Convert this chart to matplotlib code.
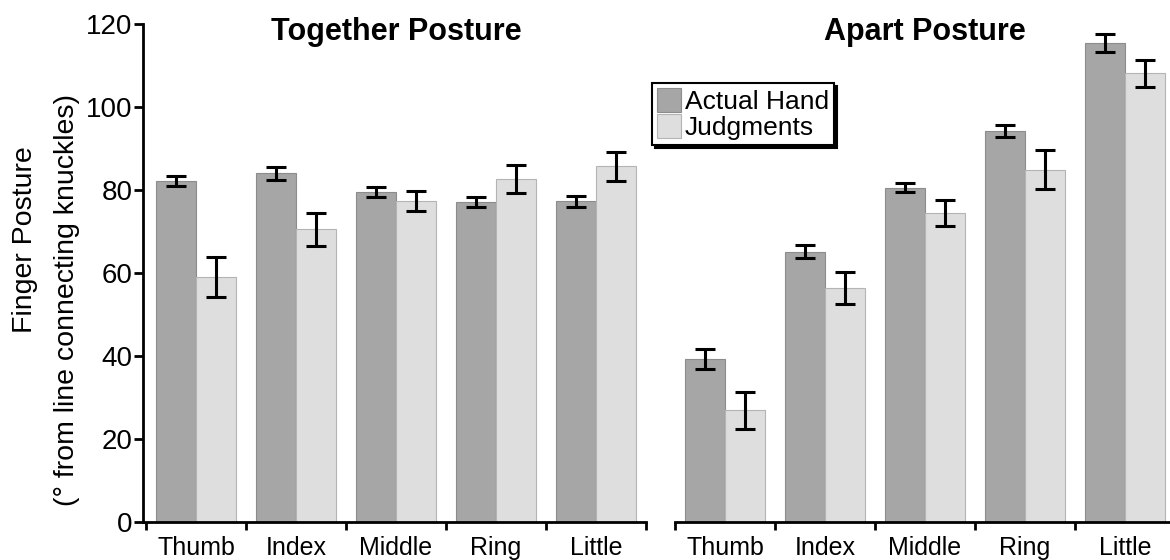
#-----------------------------------------------------------------------
#---- plot.py : Finger posture, actual hand vs judgments
#-----------------------------------------------------------------------

import numpy as np
import matplotlib
matplotlib.use("Agg")
import matplotlib.pyplot as plt


#---- Donnees
fingers = ["Thumb", "Index", "Middle", "Ring", "Little"]
series_names = ["Actual Hand", "Judgments"]

together_actual = [82.1, 84.0, 79.5, 77.1, 77.3]
together_actual_err = [1.2, 1.5, 1.3, 1.1, 1.3]
together_judg = [59.0, 70.5, 77.3, 82.6, 85.7]
together_judg_err = [4.8, 3.9, 2.4, 3.4, 3.5]

apart_actual = [39.3, 65.1, 80.6, 94.2, 115.4]
apart_actual_err = [2.5, 1.6, 1.05, 1.4, 2.1]
apart_judg = [26.9, 56.4, 74.5, 84.9, 108.1]
apart_judg_err = [4.5, 3.8, 3.2, 4.7, 3.2]

y_ticks = [0, 20, 40, 60, 80, 100, 120]


#---- Styles
DARK = "#a6a6a6"
LIGHT = "#dedede"
W = 0.4
SPINE_LW = 2.0


#-------------------------------------------------------------------
#---- Trace d'un panneau
#-------------------------------------------------------------------
def drawPanel(ax, actual, actual_err, judg, judg_err, title, xmin):

    x = np.arange(len(fingers))

    ax.bar(x - W/2, actual, W, color=DARK, edgecolor="#8c8c8c", linewidth=0.8,
           label=series_names[0], zorder=2)
    ax.bar(x + W/2, judg, W, color=LIGHT, edgecolor="#b4b4b4", linewidth=0.8,
           label=series_names[1], zorder=2)

    errStyle = dict(fmt="none", ecolor="black", elinewidth=2.2, capsize=7,
                    capthick=2.2, zorder=3)
    ax.errorbar(x - W/2, actual, yerr=actual_err, **errStyle)
    ax.errorbar(x + W/2, judg, yerr=judg_err, **errStyle)

    ax.set_xlim(xmin, len(fingers) - 0.5)
    ax.set_ylim(0, 120)

    #---- Graduations x : traits aux limites de groupes, labels au centre
    ax.set_xticks(np.arange(len(fingers) + 1) - 0.5)
    ax.set_xticklabels([])
    ax.set_xticks(x, minor=True)
    ax.set_xticklabels(fingers, minor=True, fontsize=18)
    ax.tick_params(axis="x", which="major", direction="out", length=6,
                   width=SPINE_LW, color="black")
    ax.tick_params(axis="x", which="minor", length=0, pad=10)

    for s in ["top", "right"]:
        ax.spines[s].set_visible(False)
    ax.spines["bottom"].set_linewidth(SPINE_LW)

    ax.text(2, 116.2, title, ha="center", va="baseline", fontsize=22,
            fontweight="bold")


#-----------------------------------------------------------------------
#---- Main script
#-----------------------------------------------------------------------
def main():

    plt.rcParams["font.family"] = ["Liberation Sans", "DejaVu Sans"]

    fig = plt.figure(figsize=(11.7, 5.6), dpi=100)

    #---- Positions en pixels convertis en fraction de figure
    bottom = 38 / 560
    height = 498 / 560
    axL = fig.add_axes([143 / 1170, bottom, 503 / 1170, height])
    axR = fig.add_axes([675 / 1170, bottom, 500 / 1170, height])

    drawPanel(axL, together_actual, together_actual_err, together_judg,
              together_judg_err, "Together Posture", -0.53)
    drawPanel(axR, apart_actual, apart_actual_err, apart_judg,
              apart_judg_err, "Apart Posture", -0.5)

    #---- Axe y a gauche
    axL.set_yticks(y_ticks)
    axL.tick_params(axis="y", direction="out", length=6.5, width=SPINE_LW,
                    labelsize=20, pad=1)
    axL.spines["left"].set_linewidth(SPINE_LW)

    axR.spines["left"].set_visible(False)
    axR.set_yticks([])

    fig.text(25 / 1170, 1 - 240 / 560, "Finger Posture", rotation=90,
             ha="center", va="center", fontsize=20.5)
    fig.text(67 / 1170, 1 - 300 / 560, "(\u00b0 from line connecting knuckles)",
             rotation=90, ha="center", va="center", fontsize=20.5)

    #---- Legende
    handles, labels = axL.get_legend_handles_labels()
    leg = fig.legend(handles, labels, loc="upper left",
                     bbox_to_anchor=(652 / 1170, 1 - 83 / 560),
                     bbox_transform=fig.transFigure, borderaxespad=0,
                     fontsize=19, fancybox=False, framealpha=1,
                     handlelength=0.9, handleheight=1.0, handletextpad=0.15,
                     labelspacing=0.0, borderpad=0.2,
                     shadow={"color": "black", "alpha": 1})
    leg.get_frame().set_edgecolor("black")
    leg.get_frame().set_linewidth(1.5)

    fig.savefig("out.png", dpi=100)


#-----------------------------------------------------------------------
if __name__ == "__main__":
    main()
